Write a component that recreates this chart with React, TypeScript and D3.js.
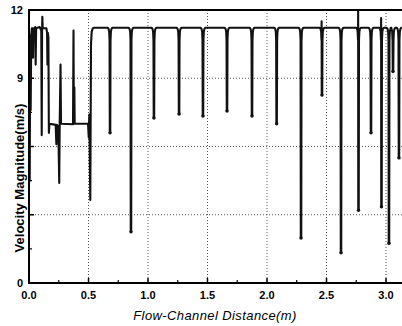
import React from "react";
import * as d3 from "d3";

// ---- data ----
const xTicks = [0.0, 0.5, 1.0, 1.5, 2.0, 2.5, 3.0];
const xMinorTicks = [0.25, 0.75, 1.25, 1.75, 2.25, 2.75, 3.25];
const yTicks = [0, 3, 6, 9, 12];
const yMinorTicks = [1.5, 4.5, 7.5, 10.5];
const yTickLabels = ["0", "", "", "9", "12"]; // 3 and 6 are hidden behind the axis title

// messy inlet section (distance m, velocity m/s)
const inletTrace: [number, number][] = [
  [0.0, 4.4], [0.003, 10.9], [0.006, 4.5], [0.01, 10.4], [0.014, 7.6], [0.019, 10.9],
  [0.024, 11.2], [0.031, 11.2], [0.034, 9.9], [0.037, 11.15], [0.052, 11.25], [0.056, 9.6],
  [0.06, 11.2], [0.09, 11.25], [0.103, 11.1], [0.107, 6.5], [0.11, 11.0], [0.112, 11.7],
  [0.115, 11.2], [0.146, 11.2], [0.152, 11.0], [0.155, 9.6], [0.158, 11.0], [0.163, 10.8],
  [0.167, 6.6], [0.172, 7.0], [0.224, 6.95], [0.23, 6.1], [0.235, 6.95], [0.24, 6.3],
  [0.246, 6.9], [0.254, 4.4], [0.258, 7.0], [0.265, 9.6], [0.269, 7.0], [0.37, 6.98],
  [0.374, 11.1], [0.377, 7.0], [0.381, 8.6], [0.384, 7.0], [0.496, 7.0], [0.502, 6.4],
  [0.507, 7.4], [0.515, 3.65], [0.521, 10.5], [0.527, 11.05], [0.537, 11.2], [0.548, 11.22],
];

const plateauVelocity = 11.22;
const dipDistance = [0.681, 0.857, 1.05, 1.261, 1.462, 1.664, 1.874, 2.081, 2.286, 2.462, 2.622, 2.769, 2.874, 2.962, 3.025, 3.059, 3.109];
const dipMinimum = [6.6, 2.25, 7.25, 7.43, 7.34, 7.56, 7.34, 7.0, 1.98, 8.26, 1.33, 3.2, 6.6, 3.35, 1.75, 9.3, 5.5];
const dipPeak = [null, null, null, null, null, null, null, null, null, 11.5, null, 12.0, null, 11.65, null, null, null];
const traceEnd = 3.25;

// ---- layout ----
const W = 402, H = 326;
const left = 29, top = 10, bottom = 283;
const x = d3.scaleLinear().domain([0, 3.2]).range([left, left + 3.2 * 119]);
const y = d3.scaleLinear().domain([0, 12]).range([bottom, top]);

// shoulder profile of a dip (visual shape only)
const shoulder: [number, number][] = [[-0.02, 0], [-0.012, -0.05], [-0.007, -0.18], [-0.004, -0.55]];

function buildTrace(): [number, number][] {
  const pts: [number, number][] = inletTrace.map((p) => [p[0], p[1]]);
  dipDistance.forEach((c, i) => {
    const m = dipMinimum[i];
    const pk = dipPeak[i];
    shoulder.forEach(([dx, dv]) => pts.push([c + dx, plateauVelocity + dv]));
    if (pk != null) {
      pts.push([c - 0.003, pk]);
    }
    pts.push([c - 0.002, m]);
    pts.push([c + 0.002, m]);
    shoulder.slice().reverse().forEach(([dx, dv]) => pts.push([c - dx, plateauVelocity + dv]));
  });
  pts.push([traceEnd, plateauVelocity]);
  return pts;
}

export default function App() {
  const trace = buildTrace();
  const line = d3.line<[number, number]>().x((d) => x(d[0])).y((d) => y(d[1]));
  const font = "'Liberation Sans', Arial, sans-serif";
  return (
    <svg width={W} height={H} style={{ position: "absolute", left: 0, top: 0, background: "#fff" }}>
      <defs>
        <clipPath id="plot">
          <rect x={left} y={top - 3} width={W - left} height={bottom - top + 3} />
        </clipPath>
      </defs>
      {/* grid */}
      {xTicks.filter((t) => t > 0).map((t) => (
        <line key={"gx" + t} x1={x(t)} x2={x(t)} y1={top} y2={bottom} stroke="#555" strokeWidth={1} strokeDasharray="1 2" />
      ))}
      {yTicks.filter((t) => t > 0 && t < 12).map((t) => (
        <line key={"gy" + t} x1={left} x2={W} y1={y(t)} y2={y(t)} stroke="#555" strokeWidth={1} strokeDasharray="1 2" />
      ))}
      {/* ticks */}
      {xTicks.map((t) => (
        <line key={"tx" + t} x1={x(t)} x2={x(t)} y1={bottom} y2={bottom - 5} stroke="#000" strokeWidth={1.5} />
      ))}
      {xMinorTicks.map((t) => (
        <line key={"tmx" + t} x1={x(t)} x2={x(t)} y1={bottom} y2={bottom - 3} stroke="#000" strokeWidth={1.2} />
      ))}
      {yTicks.map((t) => (
        <line key={"ty" + t} x1={left} x2={left + 5} y1={y(t)} y2={y(t)} stroke="#000" strokeWidth={1.5} />
      ))}
      {yMinorTicks.map((t) => (
        <line key={"tmy" + t} x1={left} x2={left + 3} y1={y(t)} y2={y(t)} stroke="#000" strokeWidth={1.2} />
      ))}
      {/* data */}
      <g clipPath="url(#plot)">
        <path d={line(trace) || ""} fill="none" stroke="#111" strokeWidth={2.1} strokeLinejoin="round" />
        {dipDistance.map((c, i) => (
          <circle key={"dot" + i} cx={x(c)} cy={y(dipMinimum[i])} r={1.7} fill="#111" />
        ))}
      </g>
      {/* frame */}
      <line x1={left} x2={W} y1={top} y2={top} stroke="#000" strokeWidth={2} />
      <line x1={left} x2={left} y1={top - 1} y2={bottom + 1} stroke="#000" strokeWidth={2} />
      <line x1={left} x2={W} y1={bottom} y2={bottom} stroke="#000" strokeWidth={2} />
      {/* tick labels */}
      {xTicks.map((t) => (
        <text key={"lx" + t} x={x(t)} y={299} textAnchor="middle" fontFamily={font} fontWeight="bold" fontSize={11}>
          {t.toFixed(1)}
        </text>
      ))}
      {yTicks.map((t, i) => (
        <text key={"ly" + t} x={23} y={y(t) + 4} textAnchor="end" fontFamily={font} fontWeight="bold" fontSize={11}>
          {yTickLabels[i]}
        </text>
      ))}
      {/* axis titles */}
      <text x={215} y={320} textAnchor="middle" fontFamily={font} fontStyle="italic" fontSize={13} letterSpacing={0.4}>
        Flow-Channel Distance(m)
      </text>
      <text transform="translate(24,178) rotate(-90)" textAnchor="middle" fontFamily={font} fontWeight="bold" fontSize={13}>
        Velocity Magnitude(m/s)
      </text>
    </svg>
  );
}
